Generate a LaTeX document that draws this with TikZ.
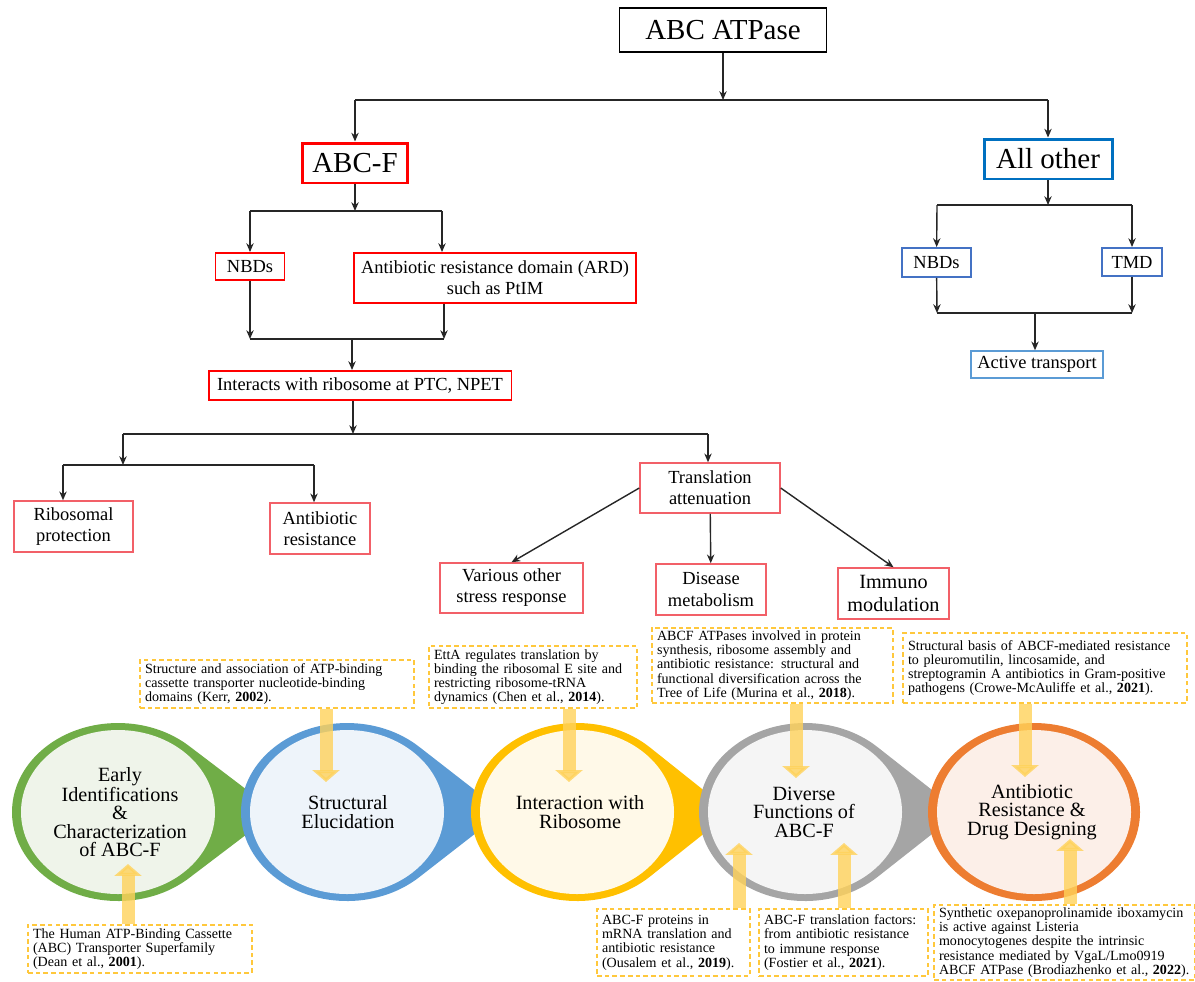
\documentclass[tikz,border=0pt]{standalone}
\usepackage{fontspec}
\setmainfont{Liberation Serif}
\usetikzlibrary{arrows.meta}
\definecolor{redA}{RGB}{255,0,0}
\definecolor{redB}{RGB}{242,96,104}
\definecolor{bluA}{RGB}{0,112,192}
\definecolor{bluB}{RGB}{68,114,196}
\definecolor{bluC}{RGB}{91,155,213}
\definecolor{grA}{RGB}{112,173,71}
\definecolor{grB}{RGB}{239,244,234}
\definecolor{blA}{RGB}{91,155,213}
\definecolor{blB}{RGB}{238,244,250}
\definecolor{yeA}{RGB}{255,192,0}
\definecolor{yeB}{RGB}{255,249,232}
\definecolor{gyA}{RGB}{165,165,165}
\definecolor{gyB}{RGB}{245,245,245}
\definecolor{orA}{RGB}{237,125,49}
\definecolor{orB}{RGB}{252,239,232}
\definecolor{note}{RGB}{255,200,60}
\definecolor{harr}{RGB}{255,210,90}

\begin{document}
\begin{tikzpicture}[x=0.02cm,y=-0.02cm,
  arr/.style={draw=black!85,line width=.8pt,-{Stealth[length=5pt,width=4.2pt]}},
  lin/.style={draw=black!85,line width=.8pt},
  box/.style={draw,rectangle,inner sep=1pt,align=center,font=\fontsize{10.5}{12}\selectfont},
  bigbox/.style={box,font=\fontsize{16.5}{18}\selectfont},
  rbox/.style={box,draw=redA,line width=1.1pt},
  pbox/.style={box,draw=redB,line width=.85pt},
  bbox/.style={box,draw=bluB,line width=1.1pt},
  notebox/.style={draw=note,line width=.8pt,dash pattern=on 2.6pt off 1.8pt,inner xsep=0.1cm,inner ysep=1pt,align=left,font=\fontsize{8}{8.1}\selectfont},
  stage/.style={align=center,font=\fontsize{11.5}{10.5}\selectfont},
  yarr/.style={draw=harr,opacity=.8,line width=7.4pt,-{Triangle[length=6.8pt,width=15.3pt]}}]

\useasboundingbox (0,0) rectangle (1195,981);

% top tree
\node[bigbox,line width=1.1pt,minimum width=4.14cm,minimum height=0.88cm] (atp) at (723,30) {ABC ATPase};
\node[bigbox,draw=redA,line width=1.7pt,minimum width=2.1cm,minimum height=0.8cm] (abcf) at (355,163) {ABC-F};
\node[bigbox,draw=bluA,line width=1.7pt,minimum width=2.56cm,minimum height=0.8cm] (allo) at (1048,159) {All other};

\coordinate (a1) at (355,100);
\coordinate (a2) at (1048,100);
\draw[arr] (atp) -- (atp |- a1);
\draw[lin] (a1) -- (a2);
\draw[arr] (a1) -- (abcf);
\draw[arr] (a2) -- (allo);

% ABC-F branch
\node[rbox,minimum width=1.38cm,minimum height=0.54cm] (nbdl) at (250,266.5) {NBDs};
\node[rbox,minimum width=5.64cm,minimum height=1cm] (ard) at (495,278) {Antibiotic resistance domain (ARD)\\such as PtIM};
\node[rbox,minimum width=6.06cm,minimum height=0.58cm] (ints) at (360,385.5) {Interacts with ribosome at PTC, NPET};

\coordinate (f1) at (250,211);
\coordinate (f2) at (442,211);
\draw[arr] (abcf) -- (abcf |- f1);
\draw[lin] (f1) -- (f2);
\draw[arr] (f1) -- (nbdl);
\draw[arr] (f2) -- (f2 |- ard.north);

\coordinate (g1) at (250,339);
\coordinate (g2) at (444,339);
\coordinate (g3) at (352,339);
\draw[arr] (nbdl) -- (g1);
\draw[arr] (ard.south -| g2) -- (g2);
\draw[lin] (g1) -- (g2);
\draw[arr] (g3) -- (g3 |- ints.north);

\node[pbox,minimum width=2.38cm,minimum height=1.02cm] (ribp) at (73.5,526.5) {Ribosomal\\protection};
\node[pbox,minimum width=2cm,minimum height=1.02cm] (antr) at (320,528.5) {Antibiotic\\resistance};
\node[pbox,minimum width=2.8cm,minimum height=1cm] (trat) at (710,488) {Translation\\attenuation};
\node[pbox,minimum width=2.86cm,minimum height=1cm] (vari) at (511.5,588) {Various other\\stress response};
\node[pbox,minimum width=2.2cm,minimum height=1.02cm] (dism) at (711,589.5) {Disease\\metabolism};
\node[pbox,minimum width=2.22cm,minimum height=1.02cm,font=\fontsize{11.5}{13}\selectfont] (immu) at (893.5,593.5) {Immuno\\modulation};

\coordinate (h0) at (353,434);
\coordinate (h1) at (123,434);
\coordinate (h2) at (708,434);
\draw[arr] (ints.south -| h0) -- (h0);
\draw[lin] (h1) -- (h2);
\coordinate (k0) at (123,465);
\coordinate (k1) at (63,465);
\coordinate (k2) at (314,465);
\draw[arr] (h1) -- (k0);
\draw[lin] (k1) -- (k2);
\draw[arr] (k1) -- (k1 |- ribp.north);
\draw[arr] (k2) -- (k2 |- antr.north);
\draw[arr] (h2) -- (h2 |- trat.north);
\draw[arr] (trat.west) -- (vari.north);
\draw[arr] (trat) -- (dism);
\draw[arr] (trat.east) -- (immu.north);

% other branch
\node[bbox,minimum width=1.38cm,minimum height=0.58cm] (nbdr) at (936.5,262.5) {NBDs};
\node[bbox,minimum width=1.2cm,minimum height=0.56cm] (tmd) at (1132,262) {TMD};
\node[box,draw=bluC,line width=.85pt,minimum width=2.64cm,minimum height=0.54cm] (actt) at (1037,364.5) {Active transport};

\coordinate (m1) at (937,205);
\coordinate (m2) at (1132,205);
\draw[arr] (allo) -- (allo |- m1);
\draw[lin] (m1) -- (m2);
\draw[arr] (m1) -- (nbdr);
\draw[arr] (m2) -- (tmd);
\coordinate (n1) at (937,313);
\coordinate (n2) at (1132,313);
\coordinate (n3) at (1035,313);
\draw[arr] (nbdr) -- (n1);
\draw[arr] (tmd) -- (n2);
\draw[lin] (n1) -- (n2);
\draw[arr] (n3) -- (n3 |- actt.north);

% timeline
\fill[grA] (276,812) -- ([shift={(118,812)}]47:106 and 89) arc[start angle=47,end angle=313,x radius=106,y radius=89] -- cycle;
\fill[grB] (118,812) ellipse[x radius=97,y radius=82];
\fill[blA] (503,812) -- ([shift={(347,812)}]47:106 and 89) arc[start angle=47,end angle=313,x radius=106,y radius=89] -- cycle;
\fill[blB] (347,812) ellipse[x radius=97,y radius=82];
\fill[yeA] (731,812) -- ([shift={(577,812)}]47:106 and 89) arc[start angle=47,end angle=313,x radius=106,y radius=89] -- cycle;
\fill[yeB] (577,812) ellipse[x radius=97,y radius=82];
\fill[gyA] (960,812) -- ([shift={(805,812)}]47:106 and 89) arc[start angle=47,end angle=313,x radius=106,y radius=89] -- cycle;
\fill[gyB] (805,812) ellipse[x radius=97,y radius=82];
\fill[orA] (1034,812) ellipse[x radius=106,y radius=89];
\fill[orB] (1034,812) ellipse[x radius=97,y radius=82];

\node[stage] (c1) at (120,812) {Early\\Identifications\\\&\\Characterization\\of ABC-F};
\node[stage] (c2) at (348,812) {Structural\\Elucidation};
\node[stage] (c3) at (580,812) {Interaction with\\Ribosome};
\node[stage] (c4) at (804,812) {Diverse\\Functions of\\ABC-F};
\node[stage] (c5) at (1032,812) {Antibiotic\\Resistance \&\\Drug Designing};

% references
\node[notebox,text width=5.28cm,minimum height=0.96cm] (kerr) at (277,684) {Structure and association of ATP-binding\\cassette transporter nucleotide-binding\\domains (Kerr, \textbf{2002}).};
\node[notebox,text width=3.96cm,minimum height=1.24cm] (chen) at (533,677) {EttA regulates translation by\\binding the ribosomal E site and\\restricting ribosome-tRNA\\dynamics (Chen et al., \textbf{2014}).};
\node[notebox,text width=4.62cm,minimum height=1.5cm] (murina) at (772.5,665.5) {\makebox[\linewidth][s]{ABCF ATPases involved in protein}\\\makebox[\linewidth][s]{synthesis, ribosome assembly and}\\\makebox[\linewidth][s]{antibiotic resistance: structural and}\\\makebox[\linewidth][s]{functional diversification across the}\\Tree of Life (Murina et al., \textbf{2018}).};
\node[notebox,text width=5.48cm,minimum height=1.4cm] (crowe) at (1045,668) {Structural basis of ABCF-mediated resistance\\to pleuromutilin, lincosamide, and\\streptogramin A antibiotics in Gram-positive\\pathogens (Crowe-McAuliffe et al., \textbf{2021}).};
\node[notebox,text width=4.28cm,minimum height=0.96cm] (dean) at (140,949) {The Human ATP-Binding Cassette\\(ABC) Transporter Superfamily\\(Dean et al., \textbf{2001}).};
\node[notebox,text width=2.86cm,minimum height=1.34cm] (ousalem) at (673.5,942.5) {ABC-F proteins in\\mRNA translation and\\antibiotic resistance\\(Ousalem et al., \textbf{2019}).};
\node[notebox,text width=3.18cm,minimum height=1.34cm] (fostier) at (843.5,942.5) {ABC-F translation factors:\\from antibiotic resistance\\to immune response\\(Fostier et al., \textbf{2021}).};
\node[notebox,text width=5.02cm,minimum height=1.5cm] (brod) at (1064.5,942.5) {Synthetic oxepanoprolinamide iboxamycin\\is active against Listeria\\monocytogenes despite the intrinsic\\resistance mediated by VgaL/Lmo0919\\ABCF ATPase (Brodiazhenko et al., \textbf{2022}).};

\coordinate (t1) at (128,864);
\coordinate (t2) at (326,782);
\coordinate (t3) at (569,782);
\coordinate (t4) at (796,778);
\coordinate (t5) at (1025,777);
\coordinate (t6) at (739,843);
\coordinate (t7) at (844,843);
\coordinate (t8) at (1070,839);
\draw[yarr] (dean.north -| t1) -- (t1);
\draw[yarr] (kerr.south -| t2) -- (t2);
\draw[yarr] (chen.south -| t3) -- (t3);
\draw[yarr] (murina.south -| t4) -- (t4);
\draw[yarr] (crowe.south -| t5) -- (t5);
\draw[yarr] (ousalem.north -| t6) -- (t6);
\draw[yarr] (fostier.north -| t7) -- (t7);
\draw[yarr] (brod.north -| t8) -- (t8);
\end{tikzpicture}
\end{document}
